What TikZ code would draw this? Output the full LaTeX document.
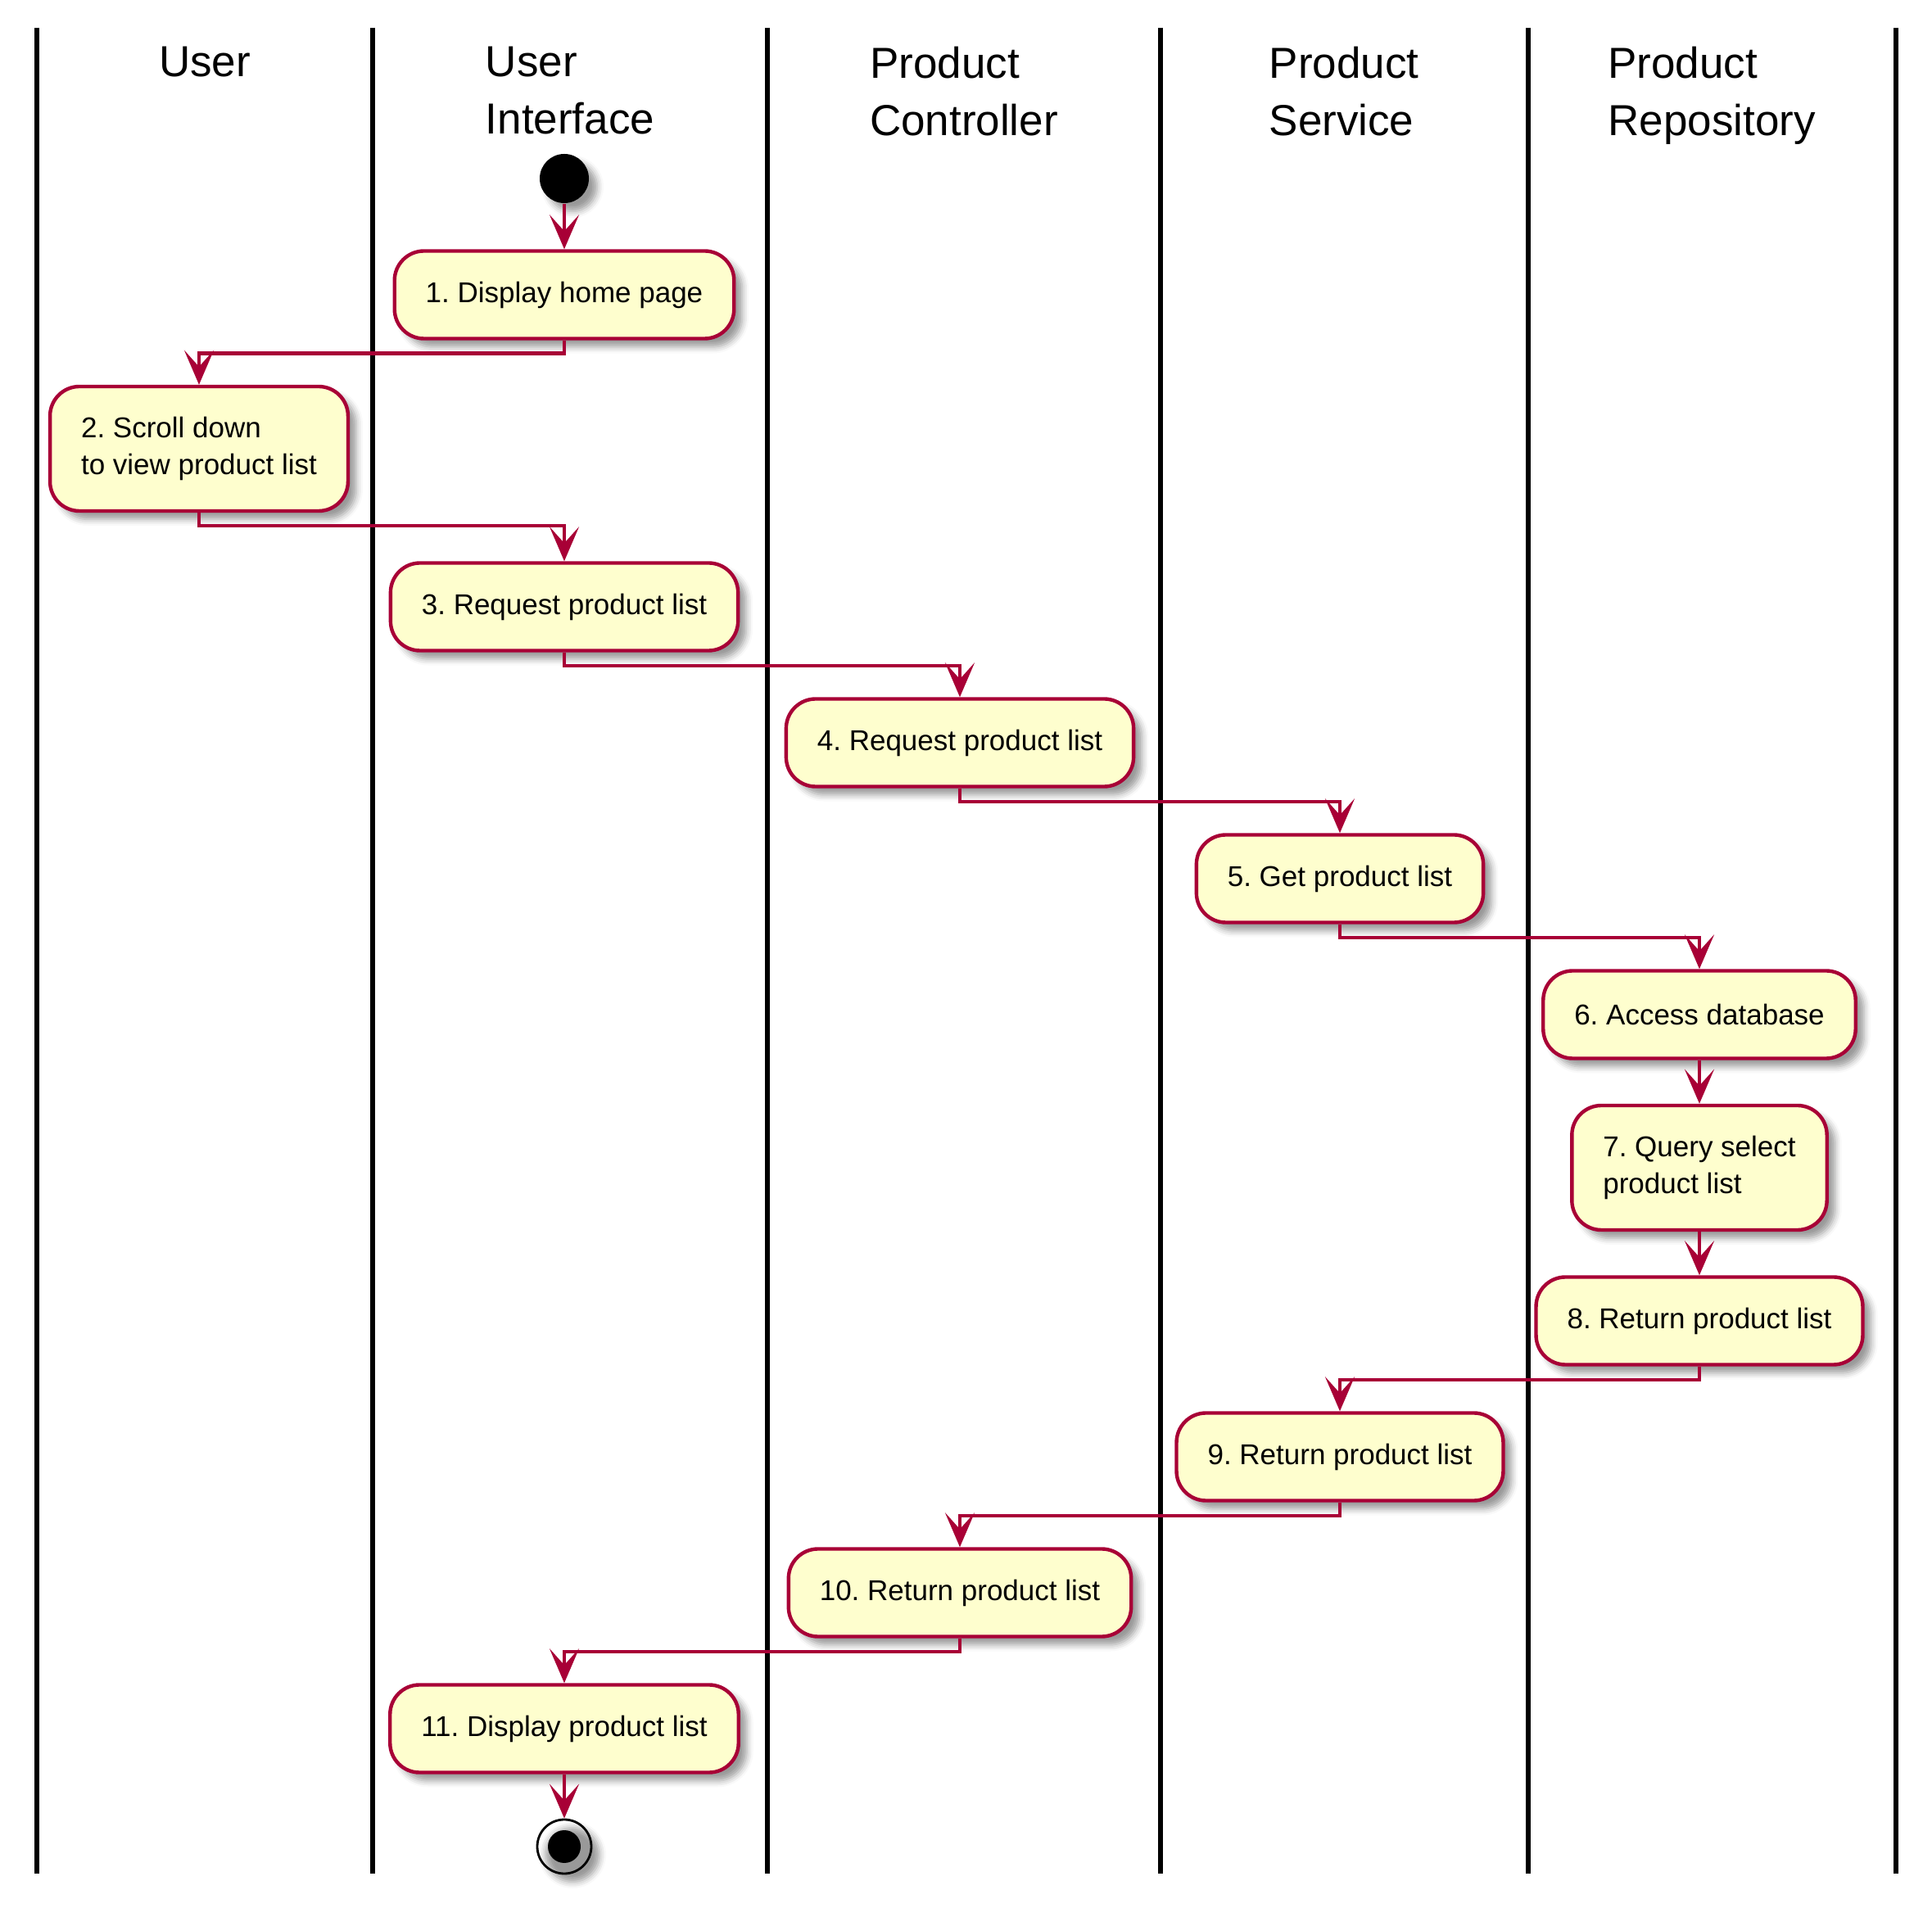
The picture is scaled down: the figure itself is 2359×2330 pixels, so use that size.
\documentclass[tikz,border=0pt]{standalone}
\usepackage{fontspec}
\setmainfont{Liberation Sans}
\usetikzlibrary{arrows.meta,shadows.blur}
\definecolor{umlred}{HTML}{A80036}
\definecolor{umlfill}{HTML}{FEFECE}
\frenchspacing

\begin{document}
\begin{tikzpicture}[x=0.25pt,y=-0.25pt,
    shade/.style={blur shadow={shadow xshift=2.5pt,shadow yshift=-2.5pt,shadow blur radius=2pt}},
    action/.style={draw=umlred,fill=umlfill,line width=1.1pt,rounded corners=9pt,shade,
        font=\fontsize{8.75}{11.25}\selectfont,align=left,inner xsep=9.5pt,inner ysep=9.3pt,
        minimum height=26.75pt},
    flow/.style={umlred,line width=1.1pt,-{Stealth[length=10.5pt,width=9pt,inset=5pt]}},
    lane/.style={line width=1.4pt},
    title/.style={font=\fontsize{13.25}{17.5}\selectfont,align=left,anchor=north,inner sep=0pt}]

    \useasboundingbox (0,0) rectangle (2359,2330);

    % lanes
    \foreach \x in {45,455,937,1417,1866,2315}
        \draw[lane] (\x,34) -- (\x,2288);
    \node[title] (user) at (250,56) {User};
    \node[title] (ui) at (696,56) {User\\Interface};
    \node[title] (ctrl) at (1177,56) {Product\\Controller};
    \node[title] (svc) at (1641,56) {Product\\Service};
    \node[title] (repo) at (2090,56) {Product\\Repository};

    % start and actions
    \node[circle,fill=black,minimum size=15pt,inner sep=0pt,shade] (start) at (689,218) {};
    \node[action] (display) at (689,360) {1. Display home page};
    \node[action] (scroll) at (243,548) {2. Scroll down\\to view product list};
    \node[action] (request) at (689,741) {3. Request product list};
    \node[action] (ctrlreq) at (1172,907) {4. Request product list};
    \node[action] (getlist) at (1636,1073) {5. Get product list};
    \node[action] (access) at (2075,1239) {6. Access database};
    \node[action] (query) at (2075,1426) {7. Query select\\product list};
    \node[action] (repret) at (2075,1613) {8. Return product list};
    \node[action] (svcret) at (1636,1779) {9. Return product list};
    \node[action] (ctrlret) at (1172,1945) {10. Return product list};
    \node[action] (showlist) at (689,2111) {11. Display product list};

    % stop
    \node[circle,draw,line width=0.7pt,minimum size=16.5pt,inner sep=0pt,shade] (stop) at (689,2255) {};
    \node[circle,fill=black,minimum size=10pt,inner sep=0pt] (stopdot) at (stop) {};

    % flows
    \foreach \a/\b in {start/display,access/query,query/repret,showlist/stop}
        \draw[flow] (\a) -- (\b);
    \foreach \a/\b in {display/scroll,scroll/request,request/ctrlreq,ctrlreq/getlist,
                       getlist/access,repret/svcret,svcret/ctrlret,ctrlret/showlist}
        \draw[flow] (\a.south) -- ++(0,16) -| (\b.north);
\end{tikzpicture}
\end{document}
